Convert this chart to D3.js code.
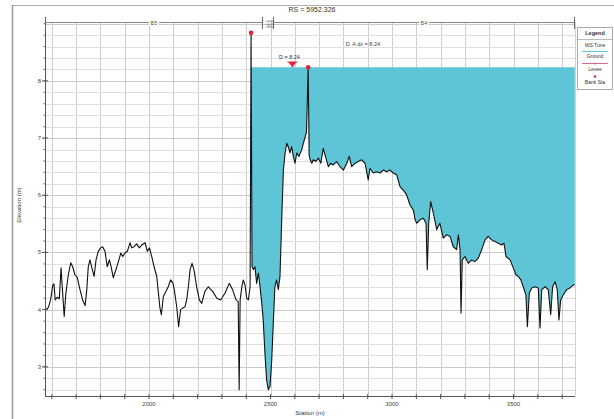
<!DOCTYPE html>
<html><head><meta charset="utf-8">
<script src="https://cdn.jsdelivr.net/npm/d3@7"></script>
<style>html,body{margin:0;padding:0;background:#fff;}svg{display:block;font-family:"Liberation Sans",Arial,sans-serif;}</style>
</head><body>
<svg id="c" width="614" height="419"></svg>
<script>
// ---- data ----
const stations = [1576,1586,1595,1604,1609,1614,1623,1631,1638,1643,1651,1658,1668,1678,1686,1695,1705,1716,1727,1737,1744,1750,1757,1764,1774,1782,1791,1801,1809,1819,1828,1837,1845,1853,1864,1874,1884,1892,1901,1911,1922,1929,1938,1949,1960,1970,1984,1993,2002,2011,2021,2032,2038,2045,2051,2059,2070,2079,2089,2098,2104,2114,2122,2130,2139,2148,2155,2162,2169,2177,2185,2196,2207,2217,2230,2244,2262,2279,2295,2313,2330,2344,2358,2367,2371,2375,2383,2388,2395,2402,2409,2416,2420,2424,2430,2436,2443,2450,2457,2464,2470,2477,2484,2491,2498,2505,2512,2518,2525,2532,2539,2546,2553,2560,2567,2573,2580,2587,2594,2601,2608,2617,2628,2639,2648,2655,2659,2663,2670,2676,2687,2697,2707,2717,2728,2738,2748,2758,2772,2786,2800,2814,2824,2834,2848,2861,2875,2889,2902,2909,2923,2937,2951,2964,2978,2992,3005,3019,3033,3046,3060,3074,3088,3095,3102,3115,3129,3140,3145,3151,3159,3170,3184,3197,3211,3225,3239,3252,3266,3273,3280,3284,3289,3300,3314,3328,3341,3355,3369,3383,3396,3410,3424,3437,3451,3461,3469,3486,3499,3510,3520,3530,3540,3551,3557,3565,3575,3588,3602,3609,3616,3630,3643,3653,3661,3671,3680,3687,3694,3705,3719,3732,3746,3752];
const elevations = [4.00,4.04,4.17,4.43,4.45,4.17,4.22,4.19,4.73,4.40,3.88,4.29,4.61,4.82,4.75,4.61,4.56,4.35,4.17,4.07,4.35,4.75,4.87,4.75,4.58,4.87,5.02,5.08,5.10,5.02,4.75,4.87,4.73,4.56,4.70,4.84,4.99,4.93,4.99,5.02,5.17,5.08,5.10,5.15,5.08,5.13,5.17,5.02,5.08,4.93,4.75,4.58,4.32,4.03,3.91,4.23,4.32,4.40,4.52,4.47,4.35,4.05,3.70,4.00,4.03,4.05,4.17,4.40,4.70,4.81,4.70,4.40,4.17,4.11,4.32,4.40,4.32,4.20,4.17,4.29,4.46,4.35,4.17,4.14,2.60,4.17,4.43,4.52,4.43,4.20,4.17,4.40,8.84,4.75,4.70,4.75,4.46,4.64,4.40,4.11,3.82,3.24,2.77,2.60,2.66,3.12,3.82,4.40,4.52,4.35,4.58,5.57,6.44,6.74,6.91,6.85,6.74,6.85,6.68,6.56,6.74,6.68,6.79,6.97,7.10,8.24,6.70,6.62,6.56,6.62,6.59,6.65,6.56,6.82,6.65,6.50,6.56,6.53,6.59,6.50,6.44,6.56,6.68,6.50,6.56,6.59,6.62,6.56,6.27,6.47,6.39,6.41,6.39,6.44,6.41,6.44,6.39,6.36,6.15,6.09,6.01,5.83,5.74,5.57,5.51,5.57,5.60,5.51,4.70,5.51,5.89,5.69,5.40,5.51,5.25,5.31,5.28,5.10,5.05,5.31,5.05,3.94,4.87,4.93,4.81,4.87,4.84,4.90,5.05,5.22,5.28,5.22,5.19,5.16,5.13,5.16,4.93,4.87,4.73,4.61,4.58,4.52,4.40,4.26,3.70,4.29,4.38,4.40,4.38,3.68,4.35,4.40,4.35,3.91,4.40,4.49,4.35,3.82,4.17,4.26,4.35,4.38,4.43,4.44];
const wsElevation = 8.24;
const wsStartStation = 2420;
const bankStations = [2420, 2655];
const bankElevations = [8.84, 8.24];
const xTickLabels = [2000, 2500, 3000, 3500];
const yTickLabels = [3, 4, 5, 6, 7, 8];
const reachNames = ["B5", "B4"];
const reachStarts = [1572, 2510];
const reachEnds = [2469, 3753];
const legendItems = ["Legend", "WS Tune", "Ground", "Levee", "Bank Sta"];
const titleText = "RS = 5952.326";

// ---- layout ----
const svg = d3.select("#c");
const x = d3.scaleLinear().domain([1572, 3753]).range([45, 575]);
const y = d3.scaleLinear().domain([2.49, 9.03]).range([396, 22]);

// outer frame
svg.append("line").attr("x1",12).attr("x2",614).attr("y1",5.5).attr("y2",5.5).attr("stroke","#b0b0b0");
svg.append("line").attr("x1",12.5).attr("x2",12.5).attr("y1",5).attr("y2",419).attr("stroke","#9a9a9a").attr("stroke-width",1.5);

// grid
const g = svg.append("g");
g.selectAll(".vg").data(d3.range(1600, 3753, 100)).join("line")
  .attr("x1", d=>Math.round(x(d))+0.5).attr("x2", d=>Math.round(x(d))+0.5)
  .attr("y1", 22).attr("y2", 396).attr("stroke", "#cdcdcd").attr("stroke-width", 1);
g.selectAll(".hg").data(d3.range(2.6, 9.02, 0.2)).join("line")
  .attr("y1", d=>Math.round(y(d))+0.5).attr("y2", d=>Math.round(y(d))+0.5)
  .attr("x1", 45).attr("x2", 575).attr("stroke", d=> Math.abs(d-Math.round(d))<0.01 ? "#cacaca" : "#dedede").attr("stroke-width", 1);
svg.append("line").attr("x1",575.5).attr("x2",575.5).attr("y1",22).attr("y2",396).attr("stroke","#d0d0d0");

// water
const pts = stations.map((s,i)=>({s, e: elevations[i]}));
const waterPts = pts.filter(p => p.s >= wsStartStation);
svg.append("path").datum(waterPts)
  .attr("d", d3.area().x(p=>x(p.s)).y0(y(wsElevation)).y1(p=>y(Math.min(p.e, wsElevation))))
  .attr("fill", "#5ec5d7");

// ground
svg.append("path").datum(pts)
  .attr("d", d3.line().x(p=>x(p.s)).y(p=>y(p.e)))
  .attr("fill","none").attr("stroke","#111").attr("stroke-width",1.1).attr("stroke-linejoin","round");

// axes
const xAxis = svg.append("g").attr("transform","translate(0,396)");
xAxis.append("line").attr("x1",45).attr("x2",575).attr("y1",0.5).attr("y2",0.5).attr("stroke","#555");
xAxis.selectAll(".xt").data(d3.range(1600, 3753, 100)).join("line")
  .attr("x1",d=>x(d)).attr("x2",d=>x(d)).attr("y1",-2).attr("y2",3).attr("stroke","#555");
xAxis.selectAll(".xl").data(xTickLabels).join("text")
  .attr("x",d=>x(d)).attr("y",10).attr("text-anchor","middle").attr("font-size",6).attr("fill","#444").text(d=>d);
svg.append("text").attr("x",310).attr("y",415).attr("text-anchor","middle").attr("font-size",6).attr("fill","#333").text("Station (m)");

const yAxis = svg.append("g");
yAxis.append("line").attr("x1",45.5).attr("x2",45.5).attr("y1",22).attr("y2",396).attr("stroke","#555");
yAxis.selectAll(".ym").data(d3.range(2.6, 9.02, 0.2)).join("line")
  .attr("x1",43.5).attr("x2",46).attr("y1",d=>y(d)).attr("y2",d=>y(d)).attr("stroke","#666");
yAxis.selectAll(".yt").data(yTickLabels).join("line")
  .attr("x1",42).attr("x2",48).attr("y1",d=>y(d)).attr("y2",d=>y(d)).attr("stroke","#555");
yAxis.selectAll(".yl").data(yTickLabels).join("text")
  .attr("x",41).attr("y",d=>y(d)+2).attr("text-anchor","end").attr("font-size",6).attr("fill","#444").text(d=>d);
svg.append("text").attr("transform","translate(21,205) rotate(-90)").attr("text-anchor","middle")
  .attr("font-size",6).attr("fill","#333").text("Elevation (m)");

// title
svg.append("text").attr("x",312).attr("y",12).attr("text-anchor","middle").attr("font-size",7).attr("fill","#333").text(titleText);

// reach band
const rb = svg.append("g");
reachNames.forEach((n,i)=>{
  const x0 = x(reachStarts[i]), x1 = x(reachEnds[i]);
  rb.append("line").attr("x1",x0).attr("x2",x1).attr("y1",22.5).attr("y2",22.5).attr("stroke","#888");
  rb.append("line").attr("x1",x0+0.5).attr("x2",x0+0.5).attr("y1",17).attr("y2",29).attr("stroke","#666");
  rb.append("line").attr("x1",x1-0.5).attr("x2",x1-0.5).attr("y1",17).attr("y2",29).attr("stroke","#666");
  const cx = (x0+x1)/2;
  rb.append("rect").attr("x",cx-5).attr("y",18).attr("width",10).attr("height",8).attr("fill","#fff");
  rb.append("text").attr("x",cx).attr("y",25).attr("text-anchor","middle").attr("font-size",5.5).attr("fill","#555").text(n);
});
["1.15","3.29","4.53"].forEach((t,i)=>{
  svg.append("text").attr("transform",`translate(${x(reachEnds[0])+3+i*2.5},${20}) rotate(90)`)
    .attr("font-size",4).attr("fill","#555").text(t);
});

// WS annotations
const wsX = x(2590);
svg.append("text").attr("x",wsX-3).attr("y",59).attr("text-anchor","middle").attr("font-size",5.5).attr("fill","#333").text("D = " + wsElevation.toFixed(2));
svg.append("path").attr("d",`M${wsX-4},62 L${wsX+4},62 L${wsX},67.5 Z`).attr("fill","#e0253a");
svg.append("line").attr("x1",wsX-5).attr("x2",wsX+5).attr("y1",62).attr("y2",62).attr("stroke","#e0253a").attr("stroke-width",1);
svg.append("text").attr("x",x(2880)).attr("y",46).attr("text-anchor","middle").attr("font-size",5.5).attr("fill","#444").text("D. A dx = " + wsElevation.toFixed(2));

// bank markers
svg.selectAll(".bk").data(bankStations).join("circle")
  .attr("cx",d=>x(d)).attr("cy",(d,i)=>y(bankElevations[i])).attr("r",2.3).attr("fill","#e0253a");

// legend
const lg = svg.append("g");
lg.append("rect").attr("x",577.5).attr("y",27.5).attr("width",35).attr("height",62).attr("fill","#fff").attr("stroke","#aaa");
const ly = [35, 47, 58, 71, 84];
legendItems.forEach((t,i)=>{
  lg.append("text").attr("x",595).attr("y",ly[i]).attr("text-anchor","middle").attr("font-size",i===0?5.5:5)
    .attr("font-weight",i===0?"bold":"normal").attr("fill","#333").text(t);
});
lg.append("line").attr("x1",578).attr("x2",612).attr("y1",39.5).attr("y2",39.5).attr("stroke","#bbb");
lg.append("line").attr("x1",582).attr("x2",608).attr("y1",51.5).attr("y2",51.5).attr("stroke","#5ec5d7");
lg.append("line").attr("x1",582).attr("x2",608).attr("y1",63.5).attr("y2",63.5).attr("stroke","#d86a9a");
lg.append("circle").attr("cx",595).attr("cy",63.5).attr("r",1).attr("fill","#d86a9a");
lg.append("circle").attr("cx",595).attr("cy",76.5).attr("r",1.2).attr("fill","#e0253a");
</script>
</body></html>
